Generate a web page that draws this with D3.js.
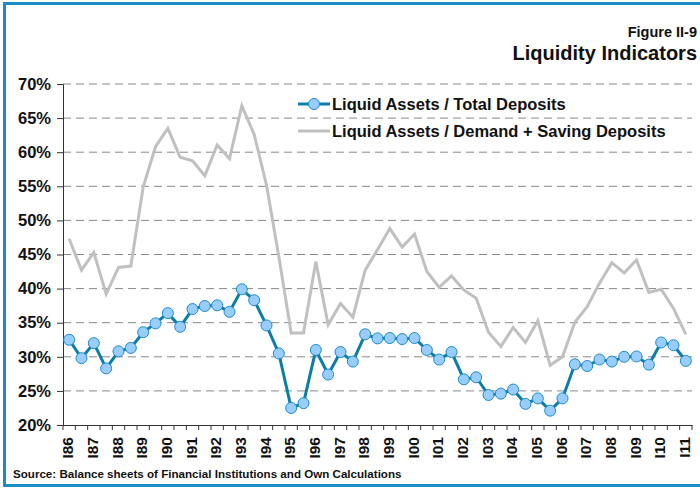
<!DOCTYPE html>
<html><head><meta charset="utf-8">
<script src="https://cdn.jsdelivr.net/npm/d3@7"></script>
<style>body{margin:0;background:#fff;}svg{display:block;font-family:Arial,"Liberation Sans",sans-serif;}</style>
</head><body>
<script>
const labels = ["I86","II86","I87","II87","I88","II88","I89","II89","I90","II90","I91","II91","I92","II92","I93","II93","I94","II94","I95","II95","I96","II96","I97","II97","I98","II98","I99","II99","I00","II00","I01","II01","I02","II02","I03","II03","I04","II04","I05","II05","I06","II06","I07","II07","I08","II08","I09","II09","I10","II10","I11"];
const totalDeposits = [32.5,29.8,32.0,28.3,30.8,31.3,33.6,34.9,36.4,34.4,37.0,37.45,37.55,36.6,39.9,38.3,34.6,30.5,22.5,23.2,31.0,27.4,30.7,29.3,33.3,32.7,32.75,32.6,32.75,31.0,29.6,30.7,26.7,27.0,24.4,24.6,25.2,23.1,23.9,22.1,23.9,28.9,28.65,29.6,29.3,30.0,30.05,28.85,32.1,31.7,29.4];
const demandSaving = [47.3,42.7,45.3,39.2,43.1,43.3,54.9,60.8,63.5,59.25,58.75,56.55,61.05,59.05,66.8,62.6,55.2,44.7,33.5,33.5,43.95,34.7,37.8,35.8,42.7,45.7,48.8,46.1,48.0,42.5,40.2,41.85,39.8,38.6,33.6,31.5,34.3,32.1,35.3,28.75,30.0,35.05,37.35,40.8,43.8,42.3,44.2,39.45,39.9,37.1,33.3];
const yTicks = [20,25,30,35,40,45,50,55,60,65,70];
const seriesNames = ["Liquid Assets / Total Deposits","Liquid Assets / Demand + Saving Deposits"];

const W=700,H=489;
const svg=d3.select("body").append("svg").attr("width",W).attr("height",H);
// frame
svg.append("rect").attr("x",4.5).attr("y",3.5).attr("width",W+10).attr("height",482).attr("fill","none").attr("stroke","#1a8cc6").attr("stroke-width",3);

const m={l:63,r:692,t:84,b:425};
const x=d3.scaleBand().domain(labels).range([m.l,m.r]).padding(0);
const y=d3.scaleLinear().domain([20,70]).range([m.b,m.t]);

// grid
svg.append("g").selectAll("line").data(yTicks.filter(t=>t>20)).join("line")
 .attr("x1",m.l).attr("x2",m.r).attr("y1",d=>y(d)).attr("y2",d=>y(d))
 .attr("stroke","#888").attr("stroke-width",1).attr("stroke-dasharray","8,5");

// y axis
const ya=svg.append("g").attr("transform",`translate(${m.l},0)`)
 .call(d3.axisLeft(y).tickValues(yTicks).tickFormat(d=>d+"%").tickSize(6).tickPadding(6));
ya.select(".domain").attr("stroke","#333");
ya.selectAll(".tick line").attr("stroke","#333");
ya.selectAll("text").attr("font-size",16.5).attr("font-weight","bold").attr("fill","#111");

// x axis
const xa=svg.append("g").attr("transform",`translate(0,${m.b})`)
 .call(d3.axisBottom(x).tickValues(labels).tickSize(0).tickFormat(""));
xa.select(".domain").attr("stroke","#333");
xa.selectAll(".tick").remove();
svg.append("g").selectAll("line").data(d3.range(labels.length+1)).join("line")
 .attr("x1",i=>m.l+i*x.bandwidth()).attr("x2",i=>m.l+i*x.bandwidth())
 .attr("y1",m.b).attr("y2",m.b+5).attr("stroke","#333");
svg.append("g").selectAll("text").data(labels.filter((d,i)=>i%2===0)).join("text")
 .attr("transform",d=>`translate(${x(d)+x.bandwidth()/2+4},${m.b+12}) rotate(-90)`)
 .attr("text-anchor","end").attr("font-size",15.5).attr("font-weight","bold").attr("fill","#111").text(d=>d);

// lines
const line=arr=>d3.line().x((d,i)=>x(labels[i])+x.bandwidth()/2).y(d=>y(d))(arr);
svg.append("path").attr("d",line(demandSaving)).attr("fill","none").attr("stroke","#c0c0c0").attr("stroke-width",3).attr("stroke-linejoin","miter");
svg.append("path").attr("d",line(totalDeposits)).attr("fill","none").attr("stroke","#0a7ea8").attr("stroke-width",3);
svg.append("g").selectAll("circle").data(totalDeposits).join("circle")
 .attr("cx",(d,i)=>x(labels[i])+x.bandwidth()/2).attr("cy",d=>y(d)).attr("r",5.5)
 .attr("fill","#99ccff").attr("stroke","#1a8cc6").attr("stroke-width",1);

// legend
const lg=svg.append("g");
lg.append("line").attr("x1",298).attr("x2",330).attr("y1",104).attr("y2",104).attr("stroke","#0a7ea8").attr("stroke-width",3);
lg.append("circle").attr("cx",314).attr("cy",104).attr("r",5.5).attr("fill","#99ccff").attr("stroke","#1a8cc6");
lg.append("line").attr("x1",298).attr("x2",330).attr("y1",131).attr("y2",131).attr("stroke","#c0c0c0").attr("stroke-width",3);
lg.append("text").attr("x",332).attr("y",110).attr("font-size",16.5).attr("font-weight","bold").attr("fill","#111").text(seriesNames[0]);
lg.append("text").attr("x",332).attr("y",137).attr("font-size",16.5).attr("font-weight","bold").attr("fill","#111").text(seriesNames[1]);

// titles
svg.append("text").attr("x",697).attr("y",37).attr("text-anchor","end").attr("font-size",14.5).attr("font-weight","bold").attr("fill","#111").text("Figure II-9");
svg.append("text").attr("x",697).attr("y",60).attr("text-anchor","end").attr("font-size",20).attr("font-weight","bold").attr("fill","#111").text("Liquidity Indicators");
svg.append("text").attr("x",13).attr("y",478).attr("font-size",11.6).attr("font-weight","bold").attr("fill","#111").text("Source: Balance sheets of Financial Institutions and Own Calculations");
</script>
</body></html>
